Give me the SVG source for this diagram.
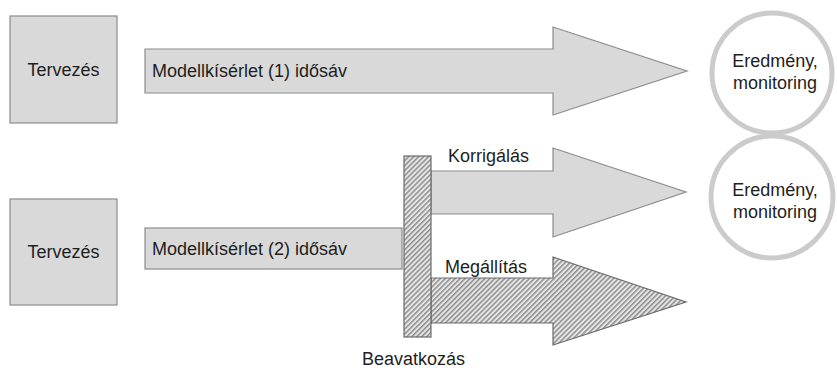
<svg xmlns="http://www.w3.org/2000/svg" width="837" height="368" viewBox="0 0 837 368">
<defs>
<pattern id="hatch" patternUnits="userSpaceOnUse" width="3.5" height="3.5" patternTransform="rotate(45)">
<rect width="3.5" height="3.5" fill="#e6e6e6"/>
<line x1="0.8" y1="0" x2="0.8" y2="3.5" stroke="#606060" stroke-width="1"/>
</pattern>
</defs>
<style>
.box{fill:#d9d9d9;stroke:#8c8c8c;stroke-width:1.2}
.hat{fill:url(#hatch);stroke:#6a6a6a;stroke-width:1.2}
.circ{fill:#ffffff;stroke:#cbcbcb;stroke-width:5}
text{font-family:"Liberation Sans",Arial,sans-serif;fill:#1e1e1e;font-size:18px}
.mid{text-anchor:middle}
</style>
<rect width="837" height="368" fill="#ffffff"/>

<g id="tervezes1">
<rect class="box" x="10" y="16" width="107" height="107"/>
<text class="mid" x="63.5" y="76">Tervezés</text>
</g>

<g id="modell1">
<path class="box" d="M145,49 H553 V27 L687,71 L553,115 V93 H145 Z"/>
<text x="152" y="77">Modellkísérlet (1) idősáv</text>
</g>

<g id="eredmeny1">
<circle class="circ" cx="772" cy="73" r="60"/>
<text class="mid" x="775" y="67">Eredmény,</text>
<text class="mid" x="775" y="89">monitoring</text>
</g>

<g id="tervezes2">
<rect class="box" x="10" y="199" width="107" height="106"/>
<text class="mid" x="63.5" y="258">Tervezés</text>
</g>

<g id="modell2">
<rect class="box" x="145" y="228" width="257" height="41"/>
<text x="152" y="255">Modellkísérlet (2) idősáv</text>
</g>

<g id="connectors">
<g id="korrigalas">
<path class="box" d="M431,171 H553 V148 L686,192 L553,237 V214 H431 Z"/>
<text x="448" y="162">Korrigálás</text>
</g>
<g id="megallitas">
<path class="hat" d="M431,278 H553 V257 L686,302 L553,345 V323 H431 Z"/>
<text x="445" y="273">Megállítás</text>
</g>
</g>

<g id="beavatkozas">
<rect class="hat" x="404" y="156" width="27" height="181"/>
<text x="362" y="365">Beavatkozás</text>
</g>

<g id="eredmeny2">
<circle class="circ" cx="772" cy="197" r="61"/>
<text class="mid" x="775" y="196">Eredmény,</text>
<text class="mid" x="775" y="218">monitoring</text>
</g>
</svg>
